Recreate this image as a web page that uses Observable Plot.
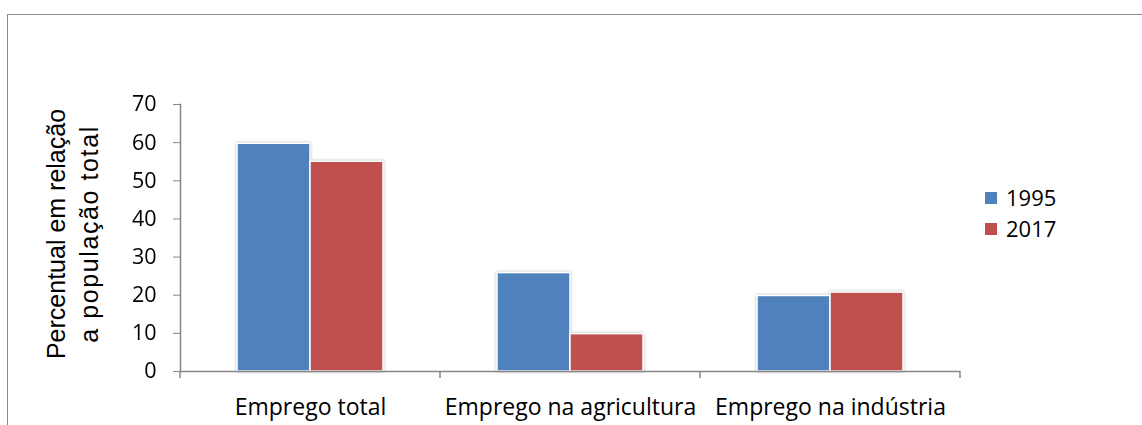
<!DOCTYPE html>
<html>
<head>
<meta charset="utf-8">
<script src="https://cdn.jsdelivr.net/npm/d3@7"></script>
<script src="https://cdn.jsdelivr.net/npm/@observablehq/plot@0.6"></script>
<style>
  body { margin: 0; background: #fff; }
  #wrap { position: relative; width: 1142px; height: 425px; overflow: hidden; background: #fff; }
  #frame { position: absolute; left: 7px; top: 14px; width: 1300px; height: 600px;
           border-left: 1px solid #8a8a8a; border-top: 1px solid #8a8a8a; pointer-events: none; }
  #wrap svg { position: absolute; left: 0; top: 0; }
</style>
</head>
<body>
<div id="wrap"><div id="frame"></div></div>
<script>
// Employment as a share of total population, 1995 vs 2017
const categories = ["Emprego total", "Emprego na agricultura", "Emprego na indústria"];
const years = ["1995", "2017"];
const values1995 = [59.7, 25.8, 19.8];
const values2017 = [55.0, 9.8, 20.7];
const yTicks = [0, 10, 20, 30, 40, 50, 60, 70];
const seriesColors = ["#4f81bd", "#c0504d"];
const yTitle = ["Percentual em relação", "a população total"];

const rows = categories.flatMap((c, i) => [
  {category: c, year: years[0], value: values1995[i]},
  {category: c, year: years[1], value: values2017[i]}
]);

const axisGray = "#868686";
const labelFont = "'Open Sans', sans-serif";

const chart = Plot.plot({
  width: 1142,
  height: 425,
  marginLeft: 179,
  marginRight: 182,
  marginTop: 104,
  marginBottom: 54,
  style: {fontFamily: labelFont, fontSize: "21px", color: "#000", background: "transparent", overflow: "visible"},
  fx: {domain: categories, padding: 0, label: null},
  x: {domain: years, paddingInner: 0, paddingOuter: 0.765, axis: null},
  y: {domain: [0, 70], label: null},
  color: {domain: years, range: seriesColors},
  marks: [
    Plot.barY(rows, {fx: "category", x: "year", y: "value", fill: "year", stroke: "white", strokeWidth: 1.5}),
    Plot.ruleY([0], {stroke: axisGray, strokeWidth: 1.5}),
    Plot.frame({anchor: "left", facetAnchor: "left", stroke: axisGray, strokeWidth: 1.5}),
    Plot.axisY({ticks: yTicks, tickSize: 7, tickPadding: 17, stroke: axisGray, fill: "#000",
                fontSize: 21.5, fontFamily: labelFont, label: null}),
    Plot.axisFx({anchor: "bottom", tickSize: 0, tickPadding: 27, fontSize: 23, fontFamily: labelFont,
                 fill: "#000", label: null, lineAnchor: "top"}),
    Plot.text([yTitle.join("\n")], {frameAnchor: "left", facetAnchor: "left", rotate: -90, dx: -110, dy: -4,
               fontSize: 25, fontFamily: "'Liberation Sans', Arial, sans-serif", lineHeight: 1.32,
               textAnchor: "middle", lineAnchor: "middle", fill: "#000"})
  ]
});

document.getElementById("wrap").appendChild(chart);

const svg = d3.select(chart);
svg.selectAll('g[aria-label="bar"]').style("filter", "drop-shadow(0 0 1.5px rgba(0,0,0,0.28))");

// the second title line is set a little looser
svg.selectAll('g[aria-label="text"] tspan').filter((d, i) => i === 1).attr("letter-spacing", "1.6px");

// category divider ticks below the baseline
const fx = chart.scale("fx");
const y = chart.scale("y");
const y0 = y.apply(0);
const bounds = categories.map(c => fx.apply(c)).concat([fx.apply(categories[categories.length - 1]) + fx.bandwidth]);
svg.append("g")
  .selectAll("line")
  .data(bounds)
  .join("line")
  .attr("x1", d => d).attr("x2", d => d)
  .attr("y1", y0).attr("y2", y0 + 7)
  .attr("stroke", axisGray).attr("stroke-width", 1.5);

// legend at the right of the plot area
const color = chart.scale("color");
const legend = svg.append("g")
  .attr("transform", `translate(${fx.apply(categories[2]) + fx.bandwidth + 25}, 192)`)
  .attr("font-family", labelFont)
  .attr("font-size", 22)
  .attr("text-anchor", "start");
const item = legend.selectAll("g")
  .data(color.domain)
  .join("g")
  .attr("transform", (d, i) => `translate(0, ${i * 31})`);
item.append("rect")
  .attr("width", 12).attr("height", 12)
  .attr("fill", (d, i) => color.range[i]);
item.append("text")
  .attr("x", 21).attr("y", 14)
  .attr("fill", "#000")
  .text(d => d);
</script>
</body>
</html>
